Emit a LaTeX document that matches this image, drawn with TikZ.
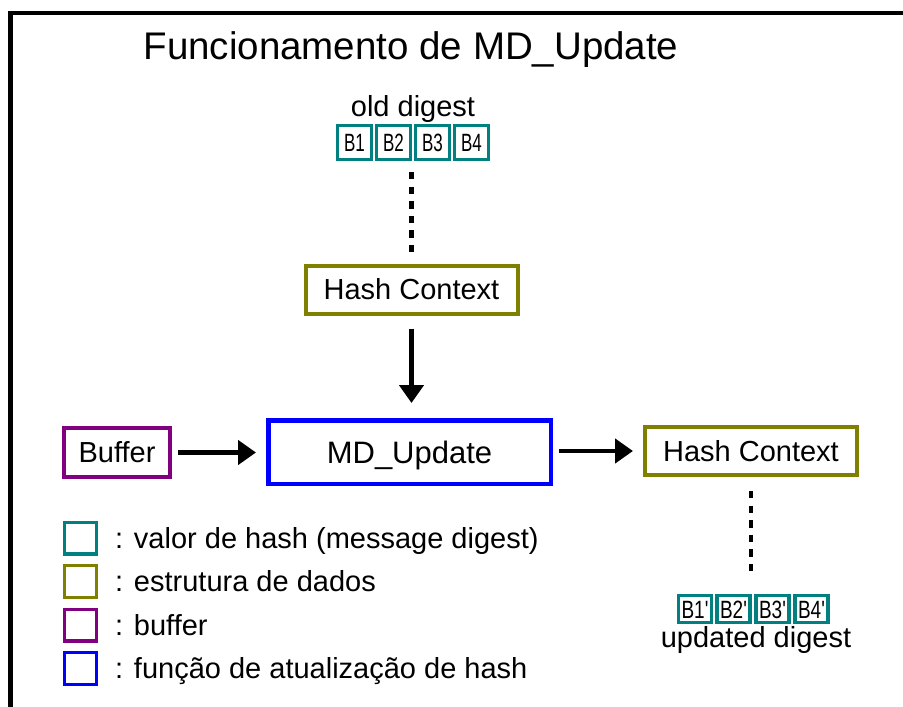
\documentclass[tikz,border=0pt]{standalone}
\usepackage{fontspec}
\setmainfont{Liberation Sans}
% a second face without TeX ligature mapping, so ' stays a straight quote
\newfontfamily\plainsans{Liberation Sans}
\usetikzlibrary{arrows.meta}
\definecolor{hashteal}{RGB}{0,128,128}
\definecolor{ctxolive}{RGB}{128,128,0}
\definecolor{bufpurple}{RGB}{128,0,128}
\definecolor{fnblue}{RGB}{0,0,255}
\tikzset{
  bodytext/.style={font=\fontsize{29}{34}\selectfont},
  ctxbox/.style={draw=ctxolive, line width=4pt, inner sep=0pt, fill=white,
    bodytext, text height=20.5pt, text depth=0pt,
    minimum width=212pt, minimum height=48pt},
  bufbox/.style={draw=bufpurple, line width=4pt, inner sep=0pt, fill=white,
    bodytext, text height=20.5pt, text depth=0pt,
    minimum width=106pt, minimum height=49pt},
  fnbox/.style={draw=fnblue, line width=4.5pt, inner sep=0pt, fill=white,
    font=\fontsize{31}{36}\selectfont, text height=22pt, text depth=0pt,
    minimum width=282.5pt, minimum height=63.5pt},
  digbox/.style={draw=hashteal, line width=3.3pt, inner sep=0pt, fill=white,
    font=\plainsans\fontsize{25}{29}\selectfont, text height=18pt, text depth=0pt,
    minimum width=33.7pt, minimum height=33.7pt},
  legsq/.style={draw, line width=3.3pt, inner sep=0pt,
    minimum width=31.7pt, minimum height=31.7pt},
  legtxt/.style={bodytext, anchor=base west, inner sep=0pt},
  flow/.style={line width=4.5pt, -{Triangle[length=18pt,width=24pt]}},
  dotline/.style={line width=4.5pt, dash pattern=on 7.3pt off 7.3pt}
}
\begin{document}
\begin{tikzpicture}[x=1pt,y=-1pt]
\useasboundingbox (0,0) rectangle (903,707);
\fill[white] (0,0) rectangle (903,707);

% outer frame (top and left edges)
\draw[line width=4.5pt] (10.5,720) -- (10.5,13) -- (920,13);

% title
\node[font=\fontsize{38.5}{44}\selectfont, anchor=base, inner sep=0pt] (title) at (411,59) {Funcionamento de MD\_Update};

% old digest
\node[bodytext, anchor=base, inner sep=0pt] (oldlbl) at (413,116) {old digest};
\node[digbox] (a1) at (354.5,142.5) {\scalebox{0.68}[1]{B1}};
\node[digbox] (a2) at (393.5,142.5) {\scalebox{0.68}[1]{B2}};
\node[digbox] (a3) at (432.5,142.5) {\scalebox{0.68}[1]{B3}};
\node[digbox] (a4) at (471.5,142.5) {\scalebox{0.68}[1]{B4}};

% main flow
\node[ctxbox] (hcA) at (411.5,289.5) {Hash Context};
\node[fnbox] (md) at (409.5,452) {MD\_Update};
\node[bufbox] (buf) at (117,452.5) {Buffer};
\node[ctxbox] (hcB) at (751,451) {Hash Context};

% updated digest
\tikzset{newdig/.style={digbox, minimum width=33pt, minimum height=27pt, text height=18pt}}
\node[newdig] (b1) at (695,609) {\scalebox{0.76}[1]{B1'}};
\node[newdig] (b2) at (733.5,609) {\scalebox{0.76}[1]{B2'}};
\node[newdig] (b3) at (772.5,609) {\scalebox{0.76}[1]{B3'}};
\node[newdig] (b4) at (811.5,609) {\scalebox{0.76}[1]{B4'}};
\node[bodytext, anchor=base, inner sep=0pt] (newlbl) at (756,647) {updated digest};

% connectors
\draw[dotline, shorten <=11pt, shorten >=11pt] (hcA.north |- a2.south) -- (hcA.north);
\draw[flow, shorten <=13pt, shorten >=15pt] (hcA.south) -- (hcA.south |- md.north);
\draw[flow, shorten <=6pt, shorten >=10pt] (buf.east) -- (md.west |- buf.east);
\draw[flow, shorten <=6pt, shorten >=10pt] (md.east |- hcB.west) -- (hcB.west);
\draw[dotline, shorten <=14pt, shorten >=22pt] (hcB.south) -- (hcB.south |- b2.north);

% legend
\node[legsq, draw=hashteal] (l1) at (80.5,538) {};
\node[legsq, draw=ctxolive] (l2) at (80.5,581.5) {};
\node[legsq, draw=bufpurple] (l3) at (80.5,625) {};
\node[legsq, draw=fnblue] (l4) at (80.5,668.5) {};
\node[legtxt] (t1) at (115,548) {: valor de hash (message digest)};
\node[legtxt] (t2) at (115,591.5) {: estrutura de dados};
\node[legtxt] (t3) at (115,635) {: buffer};
\node[legtxt] (t4) at (115,678.5) {: função de atualização de hash};
\end{tikzpicture}
\end{document}
